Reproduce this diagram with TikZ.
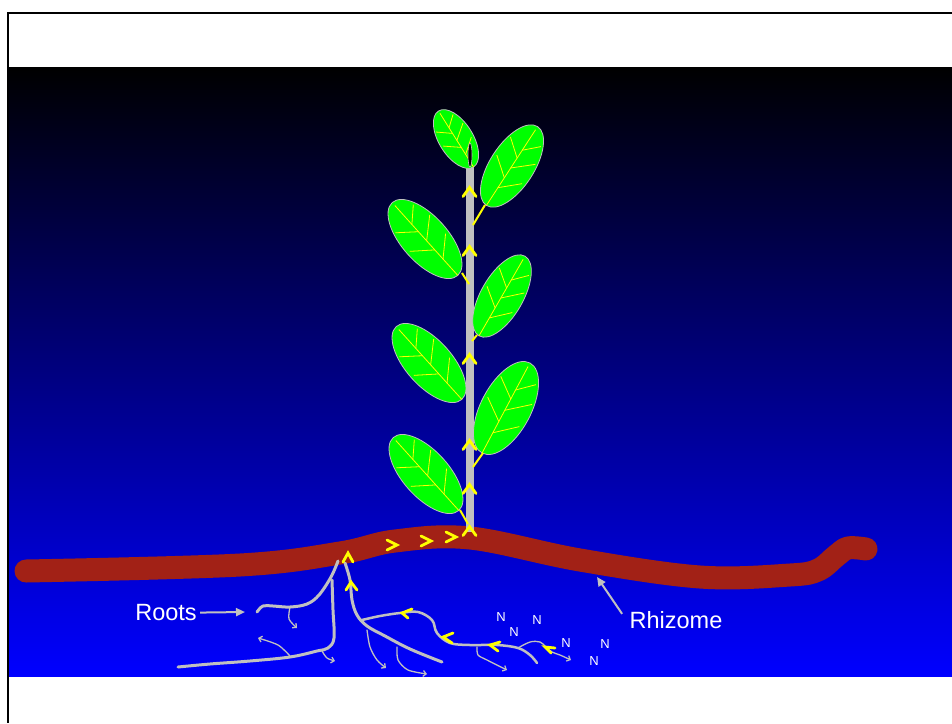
\documentclass[tikz,border=0pt]{standalone}
\usepackage{fontspec}
\setmainfont{Liberation Sans}
\usepackage{tikz}
\usetikzlibrary{arrows.meta, positioning}
\definecolor{rhizomered}{RGB}{162, 33, 22}
\definecolor{stemgray}{RGB}{192, 192, 192}
\definecolor{leafgreen}{RGB}{0, 255, 0}
\definecolor{veinyellow}{RGB}{255, 255, 0}
\tikzset{
    rhizomeline/.style={draw=rhizomered, line width=23pt, line cap=round, line join=round},
    rootline/.style={draw=stemgray, line width=3pt, line cap=round, line join=round},
    rootlet/.style={draw=stemgray, line width=1.3pt, line cap=round, -{Straight Barb[length=3pt, width=6pt]}},
    flowmark/.style={draw=veinyellow, line width=2.8pt, line cap=round},
    vein/.style={draw=veinyellow, line width=0.8pt},
    stalk/.style={draw=veinyellow, line width=2pt},
    pointer/.style={draw=stemgray, line width=2pt, -{Triangle[length=9pt, width=8pt]}},
    tagtext/.style={text=white, font=\fontsize{23.5}{28}\selectfont},
    ntext/.style={text=white, inner sep=1pt, font=\fontsize{13}{15}\selectfont}
}

\begin{document}
\begin{tikzpicture}[x=1pt, y=-1pt]
    \useasboundingbox (0,0) rectangle (952,723);
    \fill[white] (0,0) rectangle (952,723);

    % night sky to ground
    \shade[top color=black, bottom color=blue] (9,67) rectangle (952,676);
    \draw[line width=2pt] (952,13) -- (8,13) -- (8,723);

    % Leaf: centre, angle, half length, half width
    \def\drawleaf#1#2#3#4{
        \begin{scope}[shift={#1}, rotate=#2, xscale=#3, yscale=#4]
            \filldraw[fill=leafgreen, draw=stemgray, line width=0.8pt] (0,0) circle (1);
            \draw[vein] (-1,0) -- (0.92,0);
            \draw[vein] (-0.55,0) -- (-0.2,0.82) (-0.05,0) -- (0.3,0.85) (0.4,0) -- (0.68,0.62);
            \draw[vein] (-0.3,0) -- (0.02,-0.85) (0.2,0) -- (0.5,-0.78);
        \end{scope}
    }

    % the rhizome
    \draw[rhizomeline] plot[smooth, tension=0.6] coordinates {(26,571) (240,565) (340,553) (395,541) (470,538) (580,560) (700,577) (790,575) (818,570) (836,556) (848,548) (866,549)};

    % stem and leaves
    \fill[stemgray] (466,145) rectangle (474,532);
    \drawleaf{(456,139)}{122}{33}{17}
    \filldraw[fill=black, draw=stemgray, line width=0.6pt] (470,155) ellipse (2 and 12);
    \drawleaf{(512,166)}{57}{47}{22}
    \drawleaf{(425,239)}{132}{49}{23}
    \drawleaf{(502,296)}{60}{46}{21}
    \drawleaf{(429,363)}{132}{49}{23}
    \drawleaf{(506,408)}{62}{51}{25}
    \drawleaf{(426,474)}{132}{49}{23}
    \draw[stalk] (485,205) -- (473,225);
    \draw[stalk] (462,273) -- (469,284);
    \draw[stalk] (477,335) -- (472,341);
    \draw[stalk] (483,453) -- (473,467);
    \draw[stalk] (460,510) -- (468,524);

    % upward flow in the stem
    \foreach \y in {192,251,359,445,489,531} {
        \draw[flowmark] (463,\y+4.5) -- (469.5,\y-4.5) -- (476,\y+4.5);
    }
    % flow along the rhizome
    \foreach \x/\y in {392/545, 426/541, 451/537} {
        \draw[flowmark] (\x-5,\y-5) -- (\x+5,\y) -- (\x-5,\y+5);
    }

    % roots
    \draw[rootline] plot[smooth, tension=0.6] coordinates {(338,561) (331,577) (319,595) (307,604) (290,607) (273,606) (263,606) (257,612)};
    \draw[rootlet] plot[smooth] coordinates {(290,607) (289,619) (297,628)};
    \draw[rootline] plot[smooth, tension=0.6] coordinates {(332,580) (333,610) (334,638) (328,648) (317,651) (290,657) (250,661) (210,664) (178,667)};
    \draw[rootlet] plot[smooth] coordinates {(290,656) (278,645) (258,638)};
    \draw[rootlet] plot[smooth] coordinates {(322,651) (327,658) (335,661)};
    \draw[rootline] plot[smooth, tension=0.6] coordinates {(345,563) (350,580) (352,600) (357,615) (367,626) (385,636) (410,649) (442,662)};
    \draw[rootline, line width=2.5pt] plot[smooth, tension=0.6] coordinates {(362,620) (380,616) (400,613) (418,612) (432,620) (437,633) (450,643) (470,645) (497,645) (518,648) (530,655) (537,663)};
    \draw[rootlet] plot[smooth, tension=0.6] coordinates {(518,648) (530,642) (540,642) (546,647) (552,652) (560,655) (571,660)};
    \draw[rootlet] plot[smooth] coordinates {(477,647) (478,655) (487,660) (507,670)};
    \draw[rootlet] plot[smooth] coordinates {(367,630) (370,647) (377,660) (386,668)};
    \draw[rootlet] plot[smooth] coordinates {(397,647) (398,660) (408,670) (427,674)};

    % uptake marks on the roots
    \draw[flowmark] (343,562) -- (348,553) -- (353,562);
    \draw[flowmark] (346,590) -- (351,582) -- (357,590);
    \draw[flowmark] (412,609) -- (402,613) -- (408,618);
    \draw[flowmark] (453,633) -- (443,637) -- (452,643);
    \draw[flowmark] (500,642) -- (490,645) -- (498,651);
    \draw[flowmark] (555,648) -- (545,647) -- (551,653);

    % nitrogen in the soil
    \node[ntext] (n1) at (501,617) {N};
    \node[ntext] (n2) at (514,632) {N};
    \node[ntext] (n3) at (537,620) {N};
    \node[ntext] (n4) at (566,643) {N};
    \node[ntext] (n5) at (605,644) {N};
    \node[ntext] (n6) at (594,661) {N};

    % labels
    \node[tagtext] (roots) at (166,613) {Roots};
    \coordinate (rootstip) at (245,612);
    \draw[pointer] (roots) -- (rootstip);
    \node[tagtext] (rhizome) at (676,620) {Rhizome};
    \coordinate (rhizometip) at (597,577);
    \draw[pointer] ([xshift=-4pt, yshift=-6pt]rhizome.north west) -- (rhizometip);
\end{tikzpicture}
\end{document}
